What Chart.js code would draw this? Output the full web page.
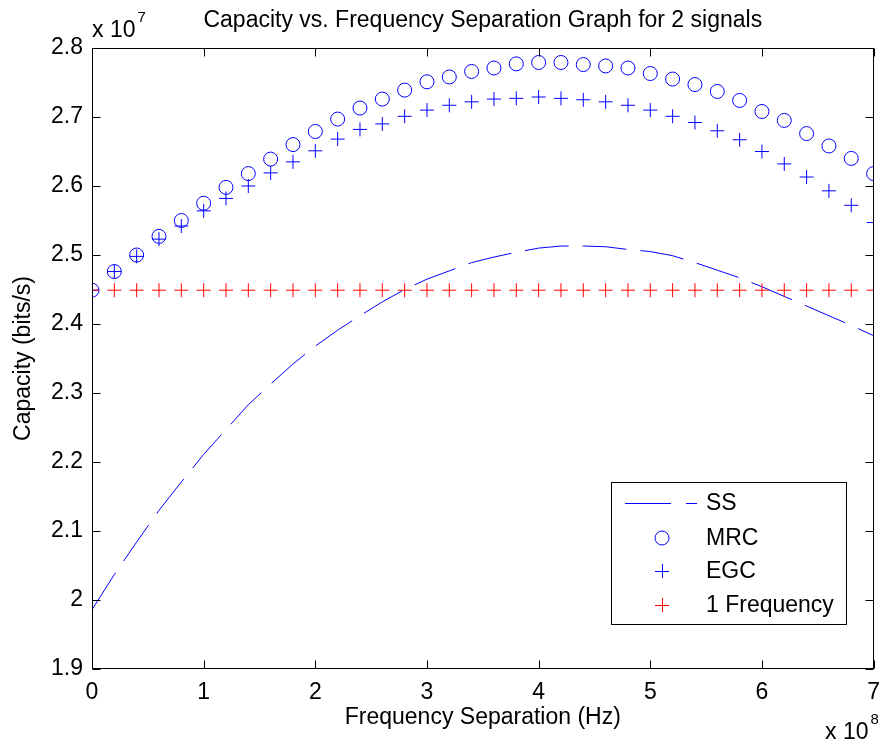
<!DOCTYPE html>
<html>
<head>
<meta charset="utf-8">
<script src="https://cdn.jsdelivr.net/npm/chart.js@4.4.1/dist/chart.umd.min.js"></script>
<style>
  html, body { margin: 0; padding: 0; background: #ffffff; }
  #wrap { width: 890px; height: 744px; }
</style>
</head>
<body>
<div id="wrap"><canvas id="c" width="890" height="744"></canvas></div>
<script>
// ---------- data (x in units of 1e8 Hz, y in units of 1e7 bits/s) ----------
const freqSeparation = [0, 0.2, 0.4, 0.6, 0.8, 1.0, 1.2, 1.4, 1.6, 1.8, 2.0, 2.2, 2.4, 2.6, 2.8, 3.0, 3.2, 3.4,
                        3.6, 3.8, 4.0, 4.2, 4.4, 4.6, 4.8, 5.0, 5.2, 5.4, 5.6, 5.8, 6.0, 6.2, 6.4, 6.6, 6.8, 7.0];
const ssValues  = [1.986, 2.037, 2.084, 2.130, 2.171, 2.211, 2.247, 2.283, 2.313, 2.342, 2.368, 2.391,
                   2.412, 2.432, 2.450, 2.465, 2.477, 2.489, 2.497, 2.504, 2.510, 2.513, 2.513, 2.512,
                   2.508, 2.505, 2.499, 2.489, 2.478, 2.467, 2.454, 2.440, 2.426, 2.412, 2.398, 2.383];
const mrcValues = [2.449, 2.476, 2.500, 2.527, 2.550, 2.575, 2.598, 2.618, 2.639, 2.660, 2.679, 2.697,
                   2.713, 2.726, 2.739, 2.751, 2.758, 2.766, 2.771, 2.777, 2.779, 2.779, 2.776, 2.774,
                   2.771, 2.763, 2.755, 2.747, 2.737, 2.724, 2.708, 2.695, 2.676, 2.658, 2.640, 2.618];
const egcValues = [2.449, 2.476, 2.498, 2.523, 2.542, 2.564, 2.582, 2.600, 2.619, 2.635, 2.651, 2.668,
                   2.682, 2.690, 2.701, 2.710, 2.717, 2.722, 2.726, 2.727, 2.729, 2.727, 2.725, 2.722,
                   2.717, 2.710, 2.701, 2.692, 2.680, 2.667, 2.650, 2.632, 2.613, 2.593, 2.572, 2.547];
const oneFreqValues = [2.449, 2.449, 2.449, 2.449, 2.449, 2.449, 2.449, 2.449, 2.449, 2.449, 2.449, 2.449,
                       2.449, 2.449, 2.449, 2.449, 2.449, 2.449, 2.449, 2.449, 2.449, 2.449, 2.449, 2.449,
                       2.449, 2.449, 2.449, 2.449, 2.449, 2.449, 2.449, 2.449, 2.449, 2.449, 2.449, 2.449];
const seriesNames = ['SS', 'MRC', 'EGC', '1 Frequency'];
const xTickLabels = ['0', '1', '2', '3', '4', '5', '6', '7'];
const yTickLabels = ['1.9', '2', '2.1', '2.2', '2.3', '2.4', '2.5', '2.6', '2.7', '2.8'];
const titleText = 'Capacity vs. Frequency Separation Graph for 2 signals';
const xAxisTitle = 'Frequency Separation (Hz)';
const yAxisTitle = 'Capacity (bits/s)';
const xExponent = '8';
const yExponent = '7';

// ---------- helpers ----------
const FONT = '"Liberation Sans", Arial, Helvetica, sans-serif';
const FS = 23;
const BLUE = '#0000ff';
const RED = '#ff0000';
const toPoints = (ys) => freqSeparation.map((x, i) => ({ x: x, y: ys[i] }));

const decorPlugin = {
  id: 'decor',
  afterDatasetsDraw(chart) {
    const ctx = chart.ctx;
    const a = chart.chartArea;
    const xs = chart.scales.x, ys = chart.scales.y;
    ctx.save();
    // axes box
    ctx.strokeStyle = '#000';
    ctx.lineWidth = 1;
    const L = Math.round(a.left) + 0.5, R = Math.round(a.right) - 0.5;
    const T = Math.round(a.top) + 0.5, B = Math.round(a.bottom) - 0.5;
    ctx.strokeRect(L, T, R - L, B - T);
    // inward tick marks
    const TL = 8;
    ctx.beginPath();
    xs.ticks.forEach(t => {
      const px = Math.round(xs.getPixelForValue(t.value)) + 0.5;
      ctx.moveTo(px, B); ctx.lineTo(px, B - TL);
      ctx.moveTo(px, T); ctx.lineTo(px, T + TL);
    });
    ys.ticks.forEach(t => {
      const py = Math.round(ys.getPixelForValue(t.value)) + 0.5;
      ctx.moveTo(L, py); ctx.lineTo(L + TL, py);
      ctx.moveTo(R, py); ctx.lineTo(R - TL, py);
    });
    ctx.stroke();

    // legend
    const lx = 611.5, ly = 482.5, lw = 235, lh = 142;
    ctx.fillStyle = '#fff';
    ctx.fillRect(lx, ly, lw, lh);
    ctx.strokeStyle = '#000';
    ctx.strokeRect(lx, ly, lw, lh);
    const rowsY = [503, 538, 571, 605];
    const mx = 662, tx = 706;
    ctx.font = FS + 'px ' + FONT;
    ctx.textBaseline = 'middle';
    ctx.textAlign = 'left';
    ctx.fillStyle = '#000';
    seriesNames.forEach((n, i) => ctx.fillText(n, tx, rowsY[i] + 1));
    ctx.lineWidth = 1;
    // SS sample
    ctx.strokeStyle = BLUE;
    ctx.beginPath();
    ctx.moveTo(625, rowsY[0] + 0.5); ctx.lineTo(671, rowsY[0] + 0.5);
    ctx.moveTo(686, rowsY[0] + 0.5); ctx.lineTo(697, rowsY[0] + 0.5);
    ctx.stroke();
    // MRC sample
    ctx.beginPath();
    ctx.arc(mx, rowsY[1], 7, 0, Math.PI * 2);
    ctx.stroke();
    // EGC sample
    ctx.beginPath();
    ctx.moveTo(mx - 7, rowsY[2] + 0.5); ctx.lineTo(mx + 7, rowsY[2] + 0.5);
    ctx.moveTo(mx + 0.5, rowsY[2] - 7); ctx.lineTo(mx + 0.5, rowsY[2] + 7);
    ctx.stroke();
    // 1 Frequency sample
    ctx.strokeStyle = RED;
    ctx.beginPath();
    ctx.moveTo(mx - 7, rowsY[3] + 0.5); ctx.lineTo(mx + 7, rowsY[3] + 0.5);
    ctx.moveTo(mx + 0.5, rowsY[3] - 7); ctx.lineTo(mx + 0.5, rowsY[3] + 7);
    ctx.stroke();

    // title
    ctx.fillStyle = '#000';
    ctx.font = FS + 'px ' + FONT;
    ctx.textAlign = 'center';
    ctx.textBaseline = 'middle';
    ctx.fillText(titleText, (a.left + a.right) / 2, 21);
    // x axis title
    ctx.fillText(xAxisTitle, (a.left + a.right) / 2, 718);
    // y axis title
    ctx.save();
    ctx.translate(24, (a.top + a.bottom) / 2);
    ctx.rotate(-Math.PI / 2);
    ctx.fillText(yAxisTitle, 0, 0);
    ctx.restore();
    // exponents
    ctx.textAlign = 'left';
    ctx.textBaseline = 'alphabetic';
    ctx.font = FS + 'px ' + FONT;
    ctx.fillText('x 10', 92, 37);
    let w = ctx.measureText('x 10').width;
    ctx.font = '15px ' + FONT;
    ctx.fillText(yExponent, 92 + w + 2, 22);
    ctx.font = FS + 'px ' + FONT;
    ctx.fillText('x 10', 825, 739);
    w = ctx.measureText('x 10').width;
    ctx.font = '15px ' + FONT;
    ctx.fillText(xExponent, 825 + w + 2, 724);
    ctx.restore();
  }
};

new Chart(document.getElementById('c'), {
  type: 'scatter',
  data: {
    datasets: [
      { label: seriesNames[0], data: toPoints(ssValues), showLine: true, borderColor: BLUE,
        borderWidth: 1, borderDash: [44, 14], pointRadius: 0, fill: false, order: 4 },
      { label: seriesNames[1], data: toPoints(mrcValues), showLine: false, pointStyle: 'circle',
        pointRadius: 7, borderColor: BLUE, backgroundColor: 'rgba(0,0,0,0)', pointBorderWidth: 1, order: 3 },
      { label: seriesNames[2], data: toPoints(egcValues), showLine: false, pointStyle: 'cross',
        pointRadius: 7, borderColor: BLUE, pointBorderWidth: 1, order: 2 },
      { label: seriesNames[3], data: toPoints(oneFreqValues), showLine: false, pointStyle: 'cross',
        pointRadius: 7, borderColor: RED, pointBorderWidth: 1, order: 1 }
    ]
  },
  options: {
    responsive: false,
    animation: false,
    events: [],
    layout: { padding: { top: 48, right: 11, left: 0, bottom: 0 } },
    plugins: { legend: { display: false }, title: { display: false }, tooltip: { enabled: false } },
    scales: {
      x: {
        type: 'linear', min: 0, max: 7,
        grid: { display: false, drawTicks: false },
        border: { display: false },
        ticks: { stepSize: 1, padding: 10, color: '#000', font: { family: FONT, size: FS },
                 maxRotation: 0, autoSkip: false,
                 callback: (v, i) => xTickLabels[i] },
        afterFit: (s) => { s.height = 75; }
      },
      y: {
        type: 'linear', min: 1.9, max: 2.8,
        grid: { display: false, drawTicks: false },
        border: { display: false },
        ticks: { stepSize: 0.1, padding: 9, color: '#000', font: { family: FONT, size: FS },
                 autoSkip: false,
                 callback: (v, i) => yTickLabels[i] },
        afterFit: (s) => { s.width = 92; }
      }
    }
  },
  plugins: [decorPlugin]
});
</script>
</body>
</html>
